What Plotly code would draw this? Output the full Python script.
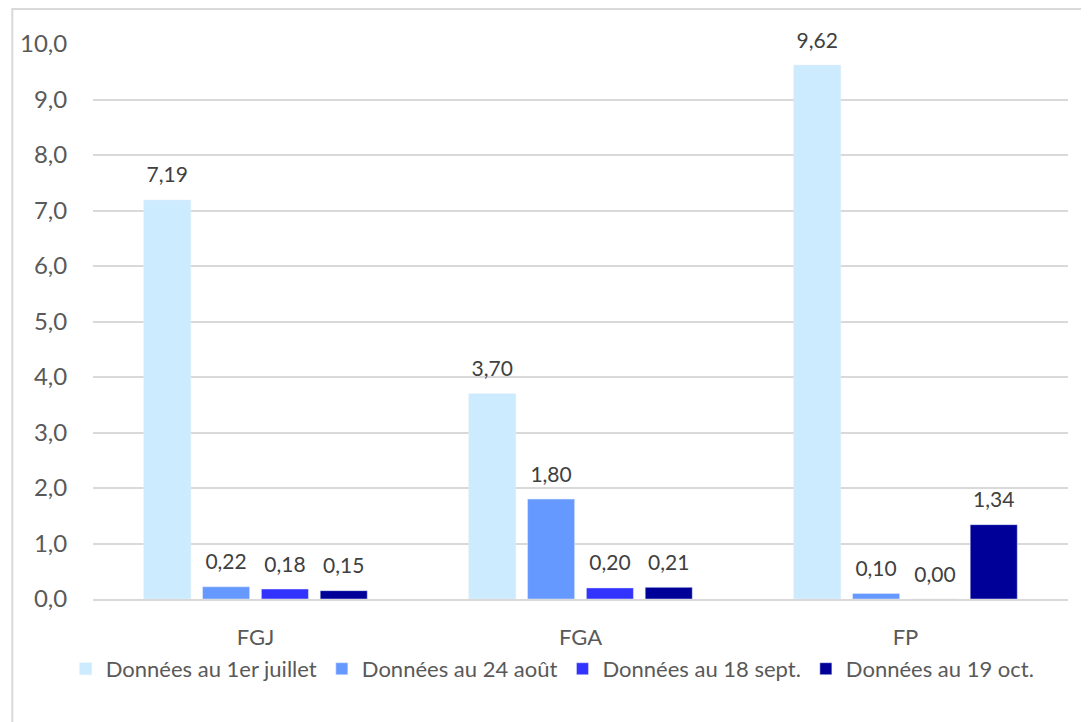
import plotly.graph_objects as go

# data
categories = ["FGJ", "FGA", "FP"]
series_names = [
    "Données au 1er juillet",
    "Données au 24 août",
    "Données au 18 sept.",
    "Données au 19 oct.",
]
juillet = [7.19, 3.70, 9.62]
aout = [0.22, 1.80, 0.10]
sept = [0.18, 0.20, 0.00]
octobre = [0.15, 0.21, 1.34]
colors = ["#CCEBFF", "#6699FF", "#3333FF", "#000099"]

all_series = [juillet, aout, sept, octobre]

fig = go.Figure()
for name, vals, col in zip(series_names, all_series, colors):
    fig.add_trace(go.Bar(x=categories, y=vals, name=name, marker_color=col))

# value labels, grouped like the bars
for name, vals in zip(series_names, all_series):
    fig.add_trace(go.Scatter(
        x=categories, y=vals, mode="markers+text", showlegend=False,
        texttemplate="%{y:.2f}", textposition="top center", cliponaxis=False,
        marker=dict(size=18, opacity=0), hoverinfo="skip",
        textfont=dict(size=21, color="#404040"),
    ))

fig.update_layout(
    width=1081, height=714,
    margin=dict(l=82, r=21, t=36, b=123),
    plot_bgcolor="white", paper_bgcolor="white",
    font=dict(family="Lato, Open Sans, sans-serif", color="#595959"),
    separators=",.",
    barmode="group", bargap=0.276, bargroupgap=0.2,
    scattermode="group", scattergap=0.276,
    showlegend=True,
    legend=dict(orientation="h", x=-0.028, y=-0.126, yanchor="middle", xanchor="left",
                font=dict(size=22, color="#595959"), itemwidth=30, tracegroupgap=0),
    yaxis=dict(range=[0, 10], dtick=1, tickformat=".1f", showgrid=True,
               gridcolor="#d9d9d9", gridwidth=2, zeroline=False,
               showline=False, tickfont=dict(size=24), ticks="outside",
               ticklen=20, tickcolor="rgba(0,0,0,0)"),
    xaxis=dict(showline=True, linecolor="#d9d9d9", linewidth=2,
               tickfont=dict(size=22), ticks="outside", ticklen=18,
               tickcolor="rgba(0,0,0,0)"),
    shapes=[dict(type="rect", xref="paper", yref="paper",
                 x0=-0.0828, x1=1.03, y0=-0.23, y1=1.063,
                 line=dict(color="#d9d9d9", width=2))],
)

fig.write_html("out.html")
